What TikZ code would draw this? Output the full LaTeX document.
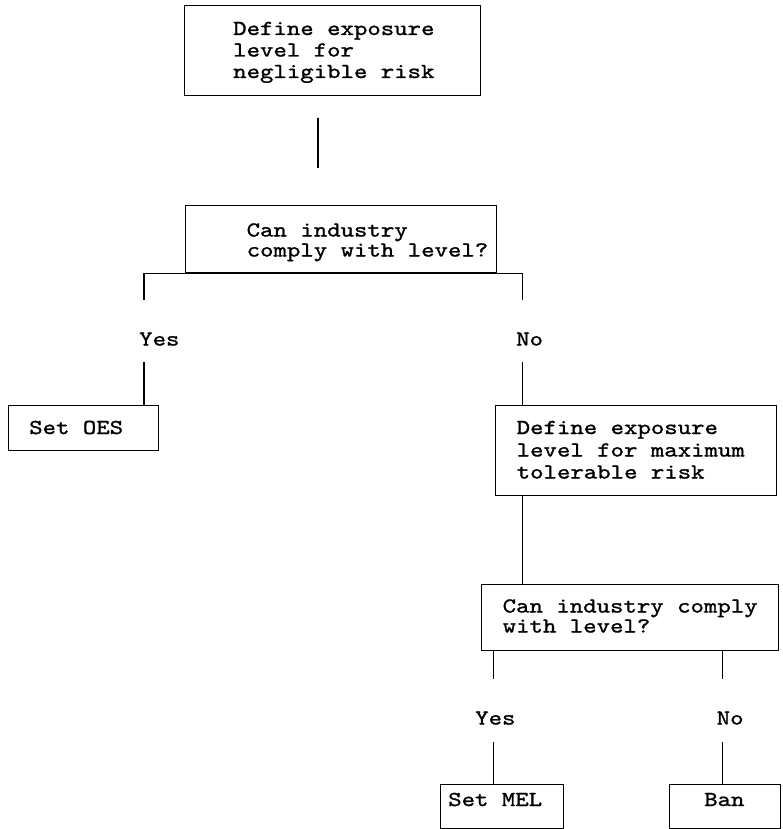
\documentclass[tikz,border=0pt]{standalone}
\usepackage{fontspec}
\newfontfamily\courfont{lmmono10-regular.otf}[FakeStretch=1.2,FakeBold=1.2]
\begin{document}
\begin{tikzpicture}[x=1pt,y=-1pt,
  boxst/.style={draw,line width=1.3pt,inner sep=0pt,anchor=north west},
  txt/.style={inner sep=0pt,anchor=base west,font=\courfont\fontsize{21.3}{22}\selectfont},
  conn/.style={line width=1.3pt}]
\useasboundingbox (0,0) rectangle (783,829);
% boxes
\node[boxst,minimum width=296pt,minimum height=90pt] (b1) at (184,5) {};
\node[boxst,minimum width=311pt,minimum height=67pt] (b2) at (184.5,205) {};
\node[boxst,minimum width=150pt,minimum height=45pt] (oes) at (7.5,404.5) {};
\node[boxst,minimum width=281pt,minimum height=90pt] (b3) at (494.5,404.5) {};
\node[boxst,minimum width=296.5pt,minimum height=66pt] (b4) at (481,583.5) {};
\node[boxst,minimum width=122.5pt,minimum height=44pt] (mel) at (440,784) {};
\node[boxst,minimum width=111pt,minimum height=44pt] (ban) at (668.5,784) {};
% texts
\node[txt] (t1a) at (233,35) {Define exposure};
\node[txt] (t1b) at (233,56.5) {level for};
\node[txt] (t1c) at (233,78) {negligible risk};
\node[txt] (t2a) at (246.5,236.5) {Can industry};
\node[txt] (t2b) at (246.5,256.5) {comply with level?};
\node[txt] (y1) at (139,345.5) {Yes};
\node[txt] (n1) at (516,345.5) {No};
\node[txt] (toes) at (29,434) {Set OES};
\node[txt] (t3a) at (516.5,434) {Define exposure};
\node[txt] (t3b) at (516.5,456.5) {level for maximum};
\node[txt] (t3c) at (516.5,478.5) {tolerable risk};
\node[txt] (t4a) at (502.5,612.5) {Can industry comply};
\node[txt] (t4b) at (502.5,632.5) {with level?};
\node[txt] (y2) at (475,724.5) {Yes};
\node[txt] (n2) at (716.5,724.5) {No};
\node[txt] (tmel) at (448,806) {Set MEL};
\node[txt] (tban) at (704,806) {Ban};
% connector x positions
\coordinate (c0) at (318,118);
\coordinate (c0e) at (318,168);
\coordinate (xl) at (144,272);
\coordinate (xr) at (522.5,272);
\coordinate (xl2) at (493.5,649.5);
\coordinate (xr2) at (722.5,649.5);
% connectors
\draw[conn] (c0) -- (c0e);
\draw[conn] (xl |- b2.south) -- (xr |- b2.south);
\draw[conn] (xl |- b2.south) -- (xl |- 0,300);
\draw[conn] (xr |- b2.south) -- (xr |- 0,300);
\draw[conn] (xl |- 0,362) -- (xl |- oes.north);
\draw[conn] (xr |- 0,362) -- (xr |- b3.north);
\draw[conn] (xr |- b3.south) -- (xr |- b4.north);
\draw[conn] (xl2 |- b4.south) -- (xl2 |- 0,678.5);
\draw[conn] (xr2 |- b4.south) -- (xr2 |- 0,678.5);
\draw[conn] (xl2 |- 0,742) -- (xl2 |- mel.north);
\draw[conn] (xr2 |- 0,742) -- (xr2 |- ban.north);
\end{tikzpicture}
\end{document}
